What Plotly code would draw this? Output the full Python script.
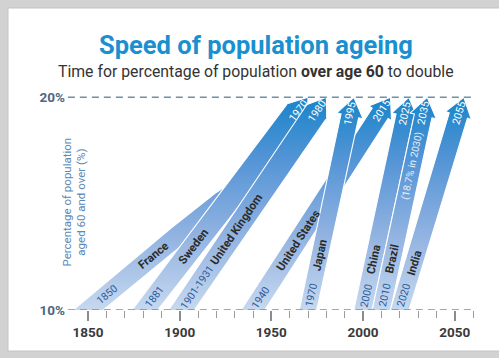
import numpy as np
import plotly.graph_objects as go
from math import atan2, degrees, radians, cos, sin

# ---------------- data ----------------
countries = ["France", "Sweden", "United Kingdom", "United States", "Japan", "China", "Brazil", "India"]
start_years = [1850, 1881, 1901, 1940, 1970, 2000, 2010, 2020]
start_labels = ["1850", "1881", "1901-1931", "1940", "1970", "2000", "2010", "2020"]
end_years = [1970, 1970, 1980, 2015, 1995, 2025, 2035, 2055]
end_labels = ["", "1970", "1980", "2015", "1995", "2025", "2035", "2055"]
notes = ["", "", "", "", "", "", "(18.7% in 2030)", ""]
pct_start = 10
pct_end = 20
x_major_ticks = [1850, 1900, 1950, 2000, 2050]
x_major_labels = ["1850", "1900", "1950", "2000", "2050"]
x_minor_ticks = [1860, 1870, 1880, 1890, 1910, 1920, 1930, 1940, 1960, 1970, 1980, 1990,
                 2010, 2020, 2030, 2040, 2060]
y_tick_vals = [10, 20]
y_tick_text = ["10%", "20%"]

# ---------------- style ----------------
merge_into = [1, None, None, None, None, None, None, None]   # France band joins the Sweden band
merge_level = 15.2
start_angle_abs = 40            # France start direction (deg)
base_w = [19, 20, 21, 20, 17, 18, 18, 18]
top_w = [24, 25, 24, 19, 18, 18, 18, 19]
name_level = [12.6, 13.0, 13.8, 13.3, 12.5, 12.4, 12.4, 12.3]
start_level = [10.65, 10.6, 11.0, 10.65, 10.65, 10.65, 10.65, 10.65]
note_level = 16.8
draw_order = [0, 1, 2, 3, 4, 5, 6, 7]

FONT = "Roboto, Open Sans, sans-serif"

W, H = 499, 358
ML, MR, MT, MB = 66, 26, 92, 48
X0, X1 = 1838, 2060
Y0, Y1 = 10, 20.25
PW = W - ML - MR
PH = H - MT - MB
SX = PW / (X1 - X0)
SY = PH / (Y1 - Y0)
HEAD_LEN = 19.0
HEAD_HW = 13.5


def to_px(x, y):
    return ML + (x - X0) * SX, H - MB - (y - Y0) * SY


def to_data(px, py):
    return X0 + (px - ML) / SX, Y0 + (H - MB - py) / SY


def bezier(B, C, N, n=60):
    t = np.linspace(0, 1, n)
    P = ((1 - t) ** 2)[:, None] * B + (2 * (1 - t) * t)[:, None] * C + (t ** 2)[:, None] * N
    D = (2 * (1 - t))[:, None] * (C - B) + (2 * t)[:, None] * (N - C)
    D = D / np.linalg.norm(D, axis=1)[:, None]
    return t, P, D


def straight_arrow(i):
    B0 = np.array(to_px(start_years[i], pct_start))
    T = np.array(to_px(end_years[i], pct_end))
    u = (T - B0) / np.linalg.norm(T - B0)
    B = B0 - u * base_w[i]
    N = T - HEAD_LEN * u
    C = (B + N) / 2
    return B, C, N, T, u


def band_polygon(t, P, D, w0, w1, head=None):
    nrm = np.column_stack([D[:, 1], -D[:, 0]])
    w = w0 + (w1 - w0) * t
    Lp = P + nrm * (w / 2)[:, None]
    Rp = P - nrm * (w / 2)[:, None]
    pts = list(Lp)
    if head is not None:
        N, T = P[-1], head
        n1 = nrm[-1]
        pts += [N + n1 * HEAD_HW, T, N - n1 * HEAD_HW]
    pts += list(Rp[::-1]) + [Lp[0]]
    pts = np.array(pts)
    return to_data(pts[:, 0], pts[:, 1])


geoms = {}
for i in range(len(countries)):
    if merge_into[i] is None:
        B, C, N, T, u = straight_arrow(i)
        t, P, D = bezier(B, C, N)
        xs, ys = band_polygon(t, P, D, base_w[i], top_w[i], head=T)
        geoms[i] = dict(xs=xs, ys=ys, P=P, D=D, T=T, u1=u)

for i in range(len(countries)):
    if merge_into[i] is not None:
        j = merge_into[i]
        Bj, Cj, Nj, Tj, uj = straight_arrow(j)
        _, jy = to_px(0, merge_level)
        s = (jy - Bj[1]) / uj[1]
        J = Bj + s * uj
        a0 = radians(start_angle_abs)
        u0 = np.array([cos(a0), -sin(a0)])
        B = np.array(to_px(start_years[i], pct_start)) - u0 * base_w[i]
        A = np.column_stack([u0, uj])
        s0, r0 = np.linalg.solve(A, J - B)
        C = B + s0 * u0
        t, P, D = bezier(B, C, J)
        wj = base_w[j] + (top_w[j] - base_w[j]) * 0.5
        xs, ys = band_polygon(t, P, D, base_w[i], wj)
        geoms[i] = dict(xs=xs, ys=ys, P=P, D=D, T=None, u1=None)


def point_at_level(g, level):
    _, py = to_px(0, level)
    P, D = g["P"], g["D"]
    k = int(np.argmin(np.abs(P[:, 1] - py)))
    ang = degrees(atan2(-D[k, 1], D[k, 0]))
    x, y = to_data(P[k, 0], P[k, 1])
    return x, y, ang


fig = go.Figure()
annotations = []
scale = [[0, "#c6d8ef"], [0.35, "#92b3e1"], [0.7, "#5595d6"], [1, "#1884c9"]]

for i in draw_order:
    g = geoms[i]
    fig.add_trace(go.Scatter(
        x=g["xs"], y=g["ys"], mode="lines", fill="toself",
        line=dict(color="white", width=1.1),
        fillgradient=dict(type="vertical", start=pct_start, stop=pct_end, colorscale=scale),
        hoverinfo="skip", showlegend=False, name=countries[i]))

for i in range(len(countries)):
    g = geoms[i]
    x, y, ang = point_at_level(g, name_level[i])
    annotations.append(dict(x=x, y=y, xref="x", yref="y", text="<b>" + countries[i] + "</b>", showarrow=False,
                            textangle=-ang, font=dict(family=FONT, size=11.5, color="#2b2b2b")))
    x, y, ang = point_at_level(g, start_level[i])
    annotations.append(dict(x=x, y=y, xref="x", yref="y", text=start_labels[i], showarrow=False,
                            textangle=-ang, font=dict(family=FONT, size=10.5, color="#2c5c9a")))
    if end_labels[i] and g["T"] is not None:
        p = g["T"] - g["u1"] * 16
        x, y = to_data(p[0], p[1])
        ang = degrees(atan2(-g["u1"][1], g["u1"][0]))
        annotations.append(dict(x=x, y=y, xref="x", yref="y", text=end_labels[i], showarrow=False,
                                textangle=-ang, font=dict(family=FONT, size=10.5, color="white")))
    if notes[i]:
        x, y, ang = point_at_level(g, note_level)
        annotations.append(dict(x=x, y=y, xref="x", yref="y", text=notes[i], showarrow=False,
                                textangle=-ang, font=dict(family=FONT, size=10, color="#e6f0fb")))


def paper_x(px):
    return (px - ML) / PW


def paper_y(py):
    return (H - MB - py) / PH


annotations.append(dict(x=paper_x(256), y=paper_y(28), xref="paper", yref="paper",
                        text="<b>Speed of population ageing</b>", showarrow=False,
                        font=dict(family=FONT, size=25.5, color="#1a90d0")))
annotations.append(dict(x=paper_x(256), y=paper_y(60), xref="paper", yref="paper",
                        text="Time for percentage of population <b>over age 60</b> to double", showarrow=False,
                        font=dict(family=FONT, size=15.8, color="#333333")))
annotations.append(dict(x=paper_x(57), y=paper_y(202), xref="paper", yref="paper",
                        text="Percentage of population<br>aged 60 and over (%)", showarrow=False,
                        textangle=-90, font=dict(family=FONT, size=11.5, color="#5a88b8")))

shapes = [
    dict(type="rect", xref="paper", yref="paper", x0=paper_x(8), x1=paper_x(520),
         y0=paper_y(351), y1=paper_y(8), fillcolor="white", line=dict(color="#c4c4c4", width=1), layer="below"),
    dict(type="line", xref="x", yref="y", x0=X0 + 1, x1=X1, y0=pct_start, y1=pct_start,
         line=dict(color="#6f90aa", width=1.5, dash="7px,5px"), layer="above"),
    dict(type="line", xref="x", yref="y", x0=X0 + 1, x1=X1, y0=pct_end, y1=pct_end,
         line=dict(color="#6f90aa", width=1.5, dash="7px,5px"), layer="above"),
]

fig.update_layout(
    width=W, height=H, margin=dict(l=ML, r=MR, t=MT, b=MB, pad=0),
    paper_bgcolor="#d2d2d2", plot_bgcolor="rgba(0,0,0,0)",
    annotations=annotations, shapes=shapes, showlegend=False,
    xaxis=dict(range=[X0, X1], showgrid=False, zeroline=False, showline=False,
               tickmode="array", tickvals=x_major_ticks, ticktext=x_major_labels,
               ticks="outside", ticklen=10, tickwidth=1.5, tickcolor="#8c8c8c",
               tickfont=dict(family=FONT, size=13.5, color="#3a3a3a", weight="bold"),
               minor=dict(tickmode="array", tickvals=x_minor_ticks, ticks="outside", ticklen=7,
                          tickwidth=1.2, tickcolor="#9a9a9a")),
    yaxis=dict(range=[Y0, Y1], showgrid=False, zeroline=False, showline=False,
               tickmode="array", tickvals=y_tick_vals, ticktext=y_tick_text, ticks="",
               tickfont=dict(family=FONT, size=13.5, color="#4a6784", weight="bold")),
)

fig.write_html("out.html")
